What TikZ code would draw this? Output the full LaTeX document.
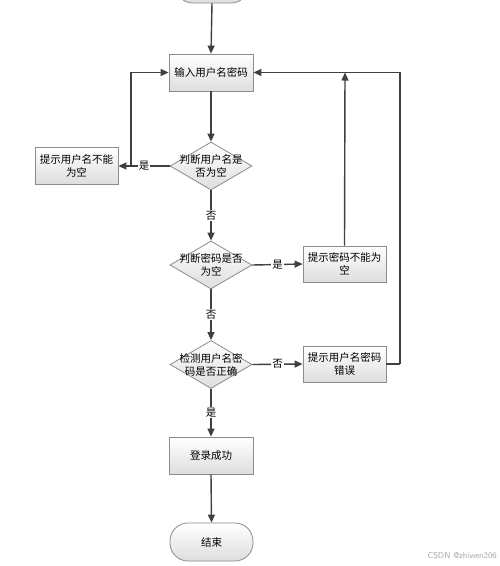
\documentclass[tikz,border=0pt]{standalone}
\usepackage{fontspec}
\setmainfont{Noto Sans CJK SC}
\usetikzlibrary{shapes.geometric,arrows.meta}
\definecolor{linec}{HTML}{404040}
\definecolor{borderc}{HTML}{8C8C8C}
\tikzset{
  boxs/.style={draw=borderc,line width=0.8pt,top color=white,bottom color=black!13,minimum width=84pt,minimum height=37pt,align=center,font=\fontsize{10.5}{13}\selectfont,inner sep=2pt},
  decs/.style={diamond,draw=borderc,line width=0.8pt,top color=white,bottom color=black!13,minimum width=82pt,minimum height=48pt,inner sep=0pt},
  dtext/.style={align=center,font=\fontsize{10.5}{13}\selectfont,inner sep=0pt},
  terms/.style={rounded corners=18pt,draw=borderc,line width=0.8pt,top color=white,bottom color=black!13,minimum width=83pt,minimum height=38pt,font=\fontsize{10.5}{13}\selectfont},
  conn/.style={draw=linec,line width=1.4pt,-{Triangle[length=8pt,width=7pt]}},
  plain/.style={draw=linec,line width=1.4pt},
  lbl/.style={fill=white,inner sep=1pt,font=\fontsize{10.5}{13}\selectfont}
}
\begin{document}
\begin{tikzpicture}[x=1pt,y=-1pt]
\useasboundingbox (0,0) rectangle (500,566);
\fill[white] (0,0) rectangle (500,566);
\begin{scope}
\clip (0,0) rectangle (500,566);
\node[terms,minimum width=74pt] (start) at (212,-16) {};
\end{scope}
\node[boxs] (input) at (211,72.5) {输入用户名密码};
\node[decs] (d1) at (211,166) {};
\node[dtext] (t1) at (d1.center) {判断用户名是\\否为空};
\node[boxs,minimum width=83pt] (e1) at (76.5,166) {提示用户名不能\\为空};
\node[decs] (d2) at (211,265) {};
\node[dtext] (t2) at (d2.center) {判断密码是否\\为空};
\node[boxs,minimum width=83pt,minimum height=36pt] (e2) at (344.5,264) {提示密码不能为\\空};
\node[decs] (d3) at (211,364.5) {};
\node[dtext] (t3) at (d3.center) {检测用户名密\\码是否正确};
\node[boxs,minimum width=83pt,minimum height=36pt] (e3) at (344.5,364) {提示用户名密码\\错误};
\node[boxs] (ok) at (211,455.5) {登录成功};
\node[terms] (end) at (211.5,542) {结束};
\node[font=\fontsize{8.5}{10}\selectfont\sffamily,text=black!35,anchor=east,inner sep=0pt] (wm) at (497,556) {CSDN @zhiwen206};

\draw[conn] (start.south) -- (input.north);
\draw[conn] (input.south) -- (d1.north);
\draw[conn] (d1.west) -- node[lbl,pos=0.5] {是} (e1.east);
\coordinate (j1) at (131,166);
\draw[conn] (j1) |- (input.west);
\draw[conn] (d1.south) -- node[lbl,pos=0.5] {否} (d2.north);
\draw[conn] (d2.east) -- node[lbl,pos=0.5] {是} (e2.west);
\coordinate (j2) at (345,72.5);
\draw[conn] (e2.north) -- (j2);
\draw[conn] (d2.south) -- node[lbl,pos=0.5] {否} (d3.north);
\draw[conn] (d3.east) -- node[lbl,pos=0.5] {否} (e3.west);
\coordinate (j3) at (400,364);
\draw[plain] (e3.east) -- (j3);
\draw[conn] (j3) |- (input.east);
\draw[conn] (d3.south) -- node[lbl,pos=0.5] {是} (ok.north);
\draw[conn] (ok.south) -- (end.north);
\end{tikzpicture}
\end{document}
